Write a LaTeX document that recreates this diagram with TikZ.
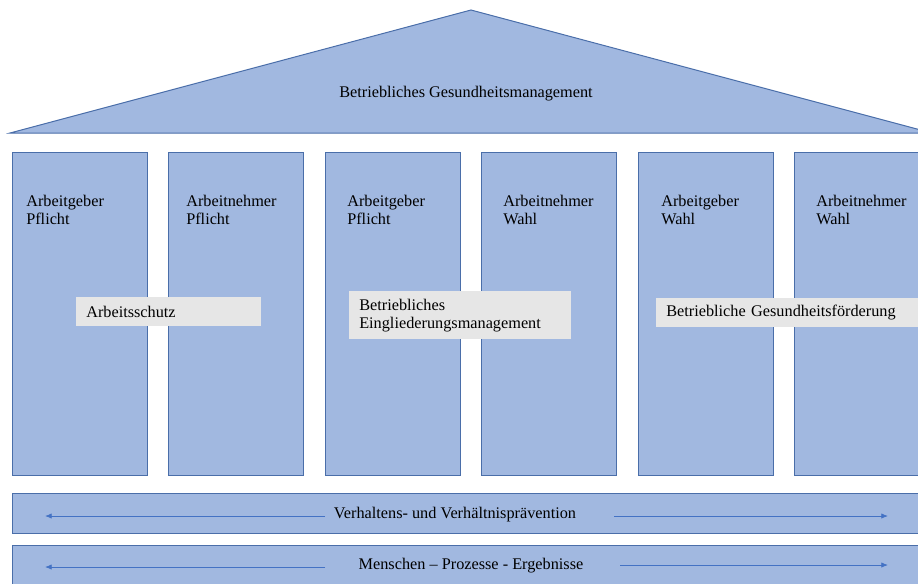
\documentclass[tikz,border=0pt]{standalone}
\usepackage{fontspec}
\setmainfont{Liberation Serif}
\usetikzlibrary{arrows,arrows.meta,positioning}
\definecolor{hausblau}{HTML}{A1B8E0}
\definecolor{randblau}{HTML}{4A6EA9}
\definecolor{pfeilblau}{HTML}{4472C4}
\definecolor{schildgrau}{HTML}{E6E6E6}

\begin{document}
\begin{tikzpicture}[x=0.75pt,y=-0.75pt]
\tikzstyle{every node}=[font=\fontsize{12.2}{13.5}\selectfont]
\tikzstyle{saeule}=[rectangle,draw=randblau,fill=hausblau,line width=0.75pt,minimum width=101.25pt,minimum height=242.25pt,inner sep=0pt]
\tikzstyle{band}=[rectangle,draw=randblau,fill=hausblau,line width=0.75pt,minimum width=705pt,inner sep=0pt,anchor=north west]
\tikzstyle{stext}=[align=left,inner sep=0pt,anchor=north west]
\tikzstyle{schild}=[rectangle,fill=schildgrau,align=left,inner xsep=7.5pt,inner ysep=0pt,anchor=north west]
\tikzstyle{pfeil}=[draw=pfeilblau,line width=0.6pt,-{Latex[length=5pt,width=4pt]}]

\useasboundingbox (0,0) rectangle (918,583);
\clip (0,0) rectangle (918,583);

% Dach
\draw[draw=randblau,fill=hausblau,line width=0.75pt] (10,133) -- (471,10) -- (932,133) -- cycle;
\node (dach) at (466,93.5) {Betriebliches Gesundheitsmanagement};

% Saeulen
\node[saeule] (s1) at (79.5,313.5) {};
\node[saeule] (s2) at (235.5,313.5) {};
\node[saeule] (s3) at (392.5,313.5) {};
\node[saeule] (s4) at (548.5,313.5) {};
\node[saeule] (s5) at (705.5,313.5) {};
\node[saeule] (s6) at (861.5,313.5) {};

\node[stext] (s1t) at (26,194.5) {Arbeitgeber\\Pflicht};
\node[stext] (s2t) at (186,194.5) {Arbeitnehmer\\Pflicht};
\node[stext] (s3t) at (347,194.5) {Arbeitgeber\\Pflicht};
\node[stext] (s4t) at (503,194.5) {Arbeitnehmer\\Wahl};
\node[stext] (s5t) at (661,194.5) {Arbeitgeber\\Wahl};
\node[stext] (s6t) at (816,194.5) {Arbeitnehmer\\Wahl};

% Schilder
\node[schild,text width=123.75pt,minimum height=21.75pt] (schutz) at (76,297) {Arbeitsschutz};
\node[schild,text width=151.5pt,minimum height=36pt] (bem) at (349,291) {Betriebliches\\Eingliederungsmanagement};
\node[schild,text width=187.5pt,minimum height=21.75pt] (bgf) at (656,298) {Betriebliche Gesundheitsförderung};

% Fundament
\node[band,minimum height=30pt] (band1) at (12,493) {};
\node[band,minimum height=37.5pt] (band2) at (12,545) {};

\node (b1t) at (455,515) {Verhaltens- und Verhältnisprävention};
\node (b2t) at (471,566) {Menschen -- Prozesse - Ergebnisse};

\coordinate (v1) at (325,516);
\coordinate (v2) at (45,516);
\coordinate (v3) at (614,516);
\coordinate (v4) at (888,516);
\coordinate (m1) at (325,567);
\coordinate (m2) at (45,567);
\coordinate (m3) at (620,565);
\coordinate (m4) at (888,565);

\draw[pfeil] (v1) -- (v2);
\draw[pfeil] (v3) -- (v4);
\draw[pfeil] (m1) -- (m2);
\draw[pfeil] (m3) -- (m4);
\end{tikzpicture}
\end{document}
